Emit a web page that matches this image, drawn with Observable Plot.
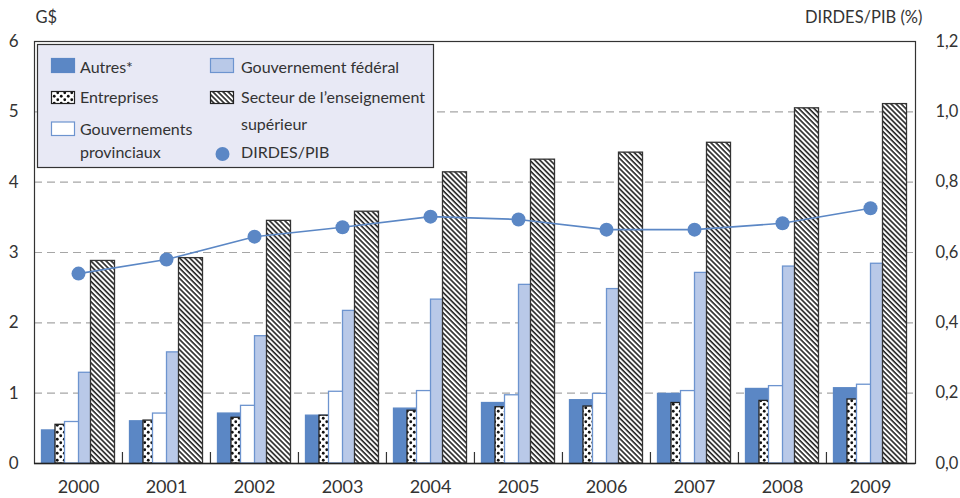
<!DOCTYPE html>
<html><head><meta charset="utf-8">
<script src="https://cdn.jsdelivr.net/npm/d3@7"></script>
<script src="https://cdn.jsdelivr.net/npm/@observablehq/plot@0.6"></script>
<style>
body{margin:0;background:#fff}
#chart svg{font-family:Lato,"DejaVu Sans",sans-serif}
</style>
</head><body><div id="chart"></div>
<script>
const years = ["2000","2001","2002","2003","2004","2005","2006","2007","2008","2009"];
const autres      = [0.47,0.60,0.71,0.68,0.78,0.86,0.90,0.99,1.06,1.07];
const entreprises = [0.55,0.61,0.65,0.68,0.75,0.80,0.81,0.86,0.89,0.91];
const provinciaux = [0.59,0.71,0.82,1.02,1.03,0.97,0.99,1.03,1.10,1.12];
const federal     = [1.29,1.58,1.81,2.17,2.33,2.54,2.48,2.71,2.80,2.84];
const superieur   = [2.88,2.92,3.45,3.58,4.14,4.32,4.42,4.56,5.05,5.11];
const dirdesPib   = [0.54,0.58,0.645,0.672,0.702,0.694,0.665,0.665,0.683,0.726];
const leftTicks   = [0,1,2,3,4,5,6];
const rightTicks  = [0,0.2,0.4,0.6,0.8,1.0,1.2];
const gridTicks   = [1,2,3,4,5];
const leftUnit    = "G$";
const rightUnit   = "DIRDES/PIB (%)";
const legendLabels = {
  autres: ["Autres*"],
  entreprises: ["Entreprises"],
  provinciaux: ["Gouvernements", "provinciaux"],
  federal: ["Gouvernement fédéral"],
  superieur: ["Secteur de l\u2019enseignement", "supérieur"],
  dirdes: ["DIRDES/PIB"]
};

const BLUE = "#5b87c5";
const EDGE = "#6d94cf";
const TEXT = "#333";
const ratio = 6 / 1.2; // right axis to left axis

const series = [
  {values: autres,      fill: BLUE,            stroke: BLUE,  dx: -24.5},
  {values: entreprises, fill: "url(#dots)",    stroke: "#222", dx: -11},
  {values: provinciaux, fill: "#ffffff",       stroke: EDGE,  dx: -1.5},
  {values: federal,     fill: "#b9c9e8",       stroke: EDGE,  dx: 12.5},
  {values: superieur,   fill: "url(#hatch)",   stroke: "#333", dx: 24.5}
];

const marks = [
  Plot.ruleY(gridTicks, {stroke: "#a6a6a6", strokeDasharray: "8,5", strokeWidth: 1.2}),
  ...series.map(s => Plot.barY(years, {
    x: d => d, y: (d, i) => s.values[i],
    fill: s.fill, stroke: s.stroke, strokeWidth: 1.3, dx: s.dx
  })),
  Plot.ruleX(years.slice(1), {x: d => d, dx: -44.05, y1: 0, y2: 0, insetTop: -11, stroke: "#333", strokeWidth: 1.2}),
  Plot.line(years, {x: d => d, y: (d, i) => dirdesPib[i] * ratio, stroke: BLUE, strokeWidth: 1.6}),
  Plot.dot(years, {x: d => d, y: (d, i) => dirdesPib[i] * ratio, r: 7, fill: BLUE, stroke: "none"}),
  Plot.frame({stroke: "#333", strokeWidth: 1.2}),
  Plot.ruleY([0], {stroke: "#222", strokeWidth: 1.5}),
  Plot.axisY({anchor: "left", ticks: leftTicks, tickSize: 0, tickPadding: 16, fontSize: 17, fill: TEXT, label: null,
    tickFormat: d => String(d)}),
  Plot.axisY({anchor: "right", ticks: rightTicks.map(v => v * ratio), tickSize: 0, tickPadding: 20, fontSize: 16.5, fill: TEXT, label: null,
    tickFormat: d => (d / ratio).toFixed(1).replace(".", ",")}),
  Plot.axisX({anchor: "bottom", tickSize: 0, tickPadding: 17, fontSize: 18, fill: TEXT, label: null}),
  Plot.text([leftUnit], {frameAnchor: "top-left", textAnchor: "start", lineAnchor: "bottom", dx: 1, dy: -19, fontSize: 16.5, fill: TEXT}),
  Plot.text([rightUnit], {frameAnchor: "top-right", textAnchor: "end", lineAnchor: "bottom", dx: 7, dy: -19, fontSize: 16.5, fill: TEXT})
];

const chart = Plot.plot({
  width: 960, height: 498,
  marginLeft: 34, marginRight: 45, marginTop: 41, marginBottom: 35,
  x: {type: "band", domain: years, paddingInner: 0.724, paddingOuter: 0.362, axis: null},
  y: {domain: [0, 6], axis: null},
  marks
});
document.getElementById("chart").appendChild(chart);

// patterns
const svg = d3.select(chart);
const defs = svg.insert("defs", ":first-child");
const dots = defs.append("pattern").attr("id", "dots").attr("patternUnits", "userSpaceOnUse")
  .attr("width", 7).attr("height", 7);
dots.append("rect").attr("width", 7).attr("height", 7).attr("fill", "#fff");
dots.append("circle").attr("cx", 1.75).attr("cy", 1.75).attr("r", 1.4).attr("fill", "#111");
dots.append("circle").attr("cx", 5.25).attr("cy", 5.25).attr("r", 1.4).attr("fill", "#111");
const hatch = defs.append("pattern").attr("id", "hatch").attr("patternUnits", "userSpaceOnUse")
  .attr("width", 3.6).attr("height", 3.6).attr("patternTransform", "rotate(45)");
hatch.append("rect").attr("width", 3.6).attr("height", 3.6).attr("fill", "#fff");
hatch.append("rect").attr("width", 3.6).attr("height", 1.6).attr("fill", "#222");

// legend
const lg = svg.append("g").attr("font-family", "Lato, 'DejaVu Sans', sans-serif").attr("font-size", 16)
  .attr("fill", TEXT).attr("text-anchor", "start");
lg.append("rect").attr("x", 37.5).attr("y", 44.5).attr("width", 396).attr("height", 123)
  .attr("fill", "#e8e9f5").attr("stroke", "#333").attr("stroke-width", 1.2);
const items = [
  {key: "autres", sx: 51, sy: 58, sh: 14, fill: BLUE, stroke: BLUE, tx: 80, ty: 72.5},
  {key: "entreprises", sx: 51, sy: 91, sh: 12, fill: "url(#dots)", stroke: "#222", tx: 80, ty: 103},
  {key: "provinciaux", sx: 51, sy: 121.5, sh: 13.5, fill: "#fff", stroke: EDGE, tx: 80, ty: 135},
  {key: "federal", sx: 210, sy: 58, sh: 14, fill: "#b9c9e8", stroke: EDGE, tx: 241, ty: 72.5},
  {key: "superieur", sx: 210, sy: 91, sh: 12, fill: "url(#hatch)", stroke: "#222", tx: 241, ty: 103},
  {key: "dirdes", dot: true, cx: 222.5, cy: 154, tx: 241, ty: 158}
];
for (const it of items) {
  if (it.dot) {
    lg.append("circle").attr("cx", it.cx).attr("cy", it.cy).attr("r", 7).attr("fill", BLUE);
  } else {
    lg.append("rect").attr("x", it.sx + 0.5).attr("y", it.sy + 0.5).attr("width", 23).attr("height", it.sh)
      .attr("fill", it.fill).attr("stroke", it.stroke).attr("stroke-width", 1.2);
  }
  legendLabels[it.key].forEach((line, j) => {
    lg.append("text").attr("x", it.tx).attr("y", it.ty + j * (it.key === "superieur" ? 27 : 23)).text(line);
  });
}
</script>
</body></html>
